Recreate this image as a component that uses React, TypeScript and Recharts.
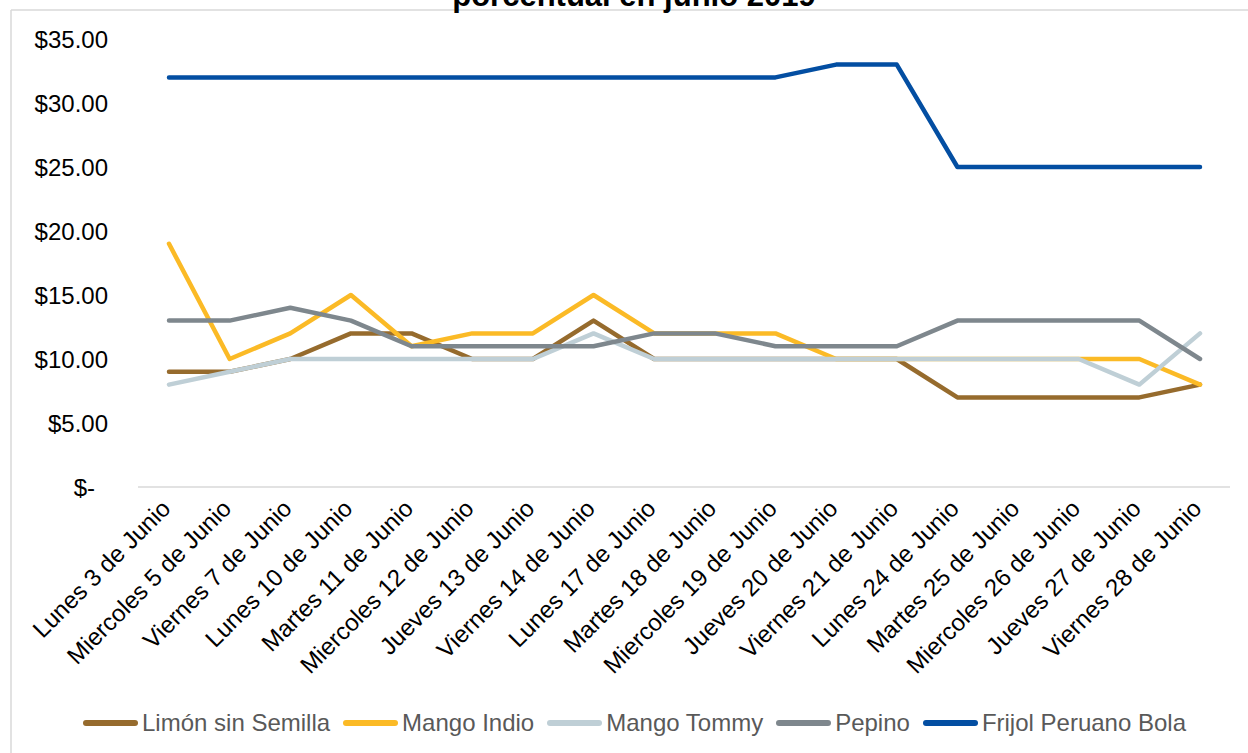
import React, { CSSProperties } from "react";
import { LineChart, Line, XAxis, YAxis, Legend } from "recharts";

const categories = [
    "Lunes 3 de Junio",
    "Miercoles 5 de Junio",
    "Viernes 7 de Junio",
    "Lunes 10 de Junio",
    "Martes 11 de Junio",
    "Miercoles 12 de Junio",
    "Jueves 13 de Junio",
    "Viernes 14 de Junio",
    "Lunes 17 de Junio",
    "Martes 18 de Junio",
    "Miercoles 19 de Junio",
    "Jueves 20 de Junio",
    "Viernes 21 de Junio",
    "Lunes 24 de Junio",
    "Martes 25 de Junio",
    "Miercoles 26 de Junio",
    "Jueves 27 de Junio",
    "Viernes 28 de Junio",
];

const limon = [9, 9, 10, 12, 12, 10, 10, 13, 10, 10, 10, 10, 10, 7, 7, 7, 7, 8];
const mangoIndio = [19, 10, 12, 15, 11, 12, 12, 15, 12, 12, 12, 10, 10, 10, 10, 10, 10, 8];
const mangoTommy = [8, 9, 10, 10, 10, 10, 10, 12, 10, 10, 10, 10, 10, 10, 10, 10, 8, 12];
const pepino = [13, 13, 14, 13, 11, 11, 11, 11, 12, 12, 11, 11, 11, 13, 13, 13, 13, 10];
const frijol = [32, 32, 32, 32, 32, 32, 32, 32, 32, 32, 32, 33, 33, 25, 25, 25, 25, 25];

const yTicks = [0, 5, 10, 15, 20, 25, 30, 35];

const titleText = "porcentual en junio 2019";

const series = [
    { key: "limon", name: "Limón sin Semilla", color: "#966B2D" },
    { key: "mangoIndio", name: "Mango Indio", color: "#FBBA26" },
    { key: "mangoTommy", name: "Mango Tommy", color: "#BFCFD6" },
    { key: "pepino", name: "Pepino", color: "#7E878D" },
    { key: "frijol", name: "Frijol Peruano Bola", color: "#034EA2" },
];

const chartData = categories.map((day, i) => ({
    day,
    limon: limon[i],
    mangoIndio: mangoIndio[i],
    mangoTommy: mangoTommy[i],
    pepino: pepino[i],
    frijol: frijol[i],
}));

const FONT = "'Liberation Sans', Arial, sans-serif";

function DayTick({ x, y, payload }: any) {
    const px = x + 3;
    const py = y + 23;
    return (
        <text
            x={px}
            y={py}
            transform={`rotate(-45 ${px} ${py})`}
            textAnchor="end"
            fontSize={24}
            fontFamily={FONT}
            fill="#000"
        >
            {payload.value}
        </text>
    );
}

function PriceTick({ x, y, payload }: any) {
    const isZero = payload.value === 0;
    return (
        <text
            x={isZero ? x - 13 : x}
            y={y}
            dy="0.36em"
            textAnchor="end"
            fontSize={24}
            fontFamily={FONT}
            fill="#000"
        >
            {isZero ? "$-" : `$${payload.value.toFixed(2)}`}
        </text>
    );
}

// legend keeps the series order (recharts sorts its payload)
function renderLegend() {
    return (
        <div style={legendRowStyle}>
            {series.map((s) => (
                <div key={s.key} style={legendItemStyle}>
                    <span style={{ ...legendSwatchStyle, background: s.color }} />
                    <span style={legendTextStyle}>{s.name}</span>
                </div>
            ))}
        </div>
    );
}

export default function App() {
    return (
        <div style={pageStyle}>
            <LineChart
                width={1248}
                height={753}
                data={chartData}
                margin={{ top: 39, right: 18, bottom: 0, left: 0 }}
            >
                <XAxis
                    dataKey="day"
                    interval={0}
                    height={242}
                    tickSize={0}
                    tickMargin={0}
                    tickLine={false}
                    tick={<DayTick />}
                    padding={{ left: 31, right: 30 }}
                    axisLine={{ stroke: "#D9D9D9", strokeWidth: 1.5 }}
                />
                <YAxis
                    width={138}
                    domain={[0, 35]}
                    ticks={yTicks}
                    tickSize={0}
                    tickMargin={30}
                    axisLine={false}
                    tickLine={false}
                    tick={<PriceTick />}
                />
                <Legend
                    verticalAlign="bottom"
                    wrapperStyle={{ left: 0, bottom: 18, width: 1248 }}
                    content={renderLegend}
                />
                {series.map((s) => (
                    <Line
                        key={s.key}
                        type="linear"
                        dataKey={s.key}
                        name={s.name}
                        stroke={s.color}
                        strokeWidth={4.5}
                        strokeLinecap="round"
                        strokeLinejoin="round"
                        dot={false}
                        activeDot={false}
                        isAnimationActive={false}
                    />
                ))}
            </LineChart>
            <svg width={1248} height={753} style={overlayStyle}>
                <line x1={11} y1={10} x2={1248} y2={10} stroke="#D9D9D9" strokeWidth={1.5} />
                <line x1={11} y1={10} x2={11} y2={753} stroke="#D9D9D9" strokeWidth={1.5} />
                <text
                    x={634}
                    y={6}
                    textAnchor="middle"
                    fontSize={31}
                    fontWeight="bold"
                    fontFamily={FONT}
                    fill="#000"
                >
                    {titleText}
                </text>
            </svg>
        </div>
    );
}

const pageStyle: CSSProperties = {
    position: "absolute",
    left: 0,
    top: 0,
    width: 1248,
    height: 753,
    background: "#fff",
    overflow: "hidden",
};

const overlayStyle: CSSProperties = {
    position: "absolute",
    left: 0,
    top: 0,
    pointerEvents: "none",
};

const legendRowStyle: CSSProperties = {
    display: "flex",
    justifyContent: "center",
    alignItems: "center",
    height: 24,
    paddingLeft: 34,
    fontFamily: FONT,
};

const legendItemStyle: CSSProperties = {
    display: "flex",
    alignItems: "center",
    marginRight: 13,
};

const legendSwatchStyle: CSSProperties = {
    display: "inline-block",
    width: 55,
    height: 6,
    borderRadius: 3,
    marginRight: 4,
};

const legendTextStyle: CSSProperties = {
    fontSize: 24,
    color: "#595959",
    lineHeight: "24px",
    whiteSpace: "nowrap",
};
